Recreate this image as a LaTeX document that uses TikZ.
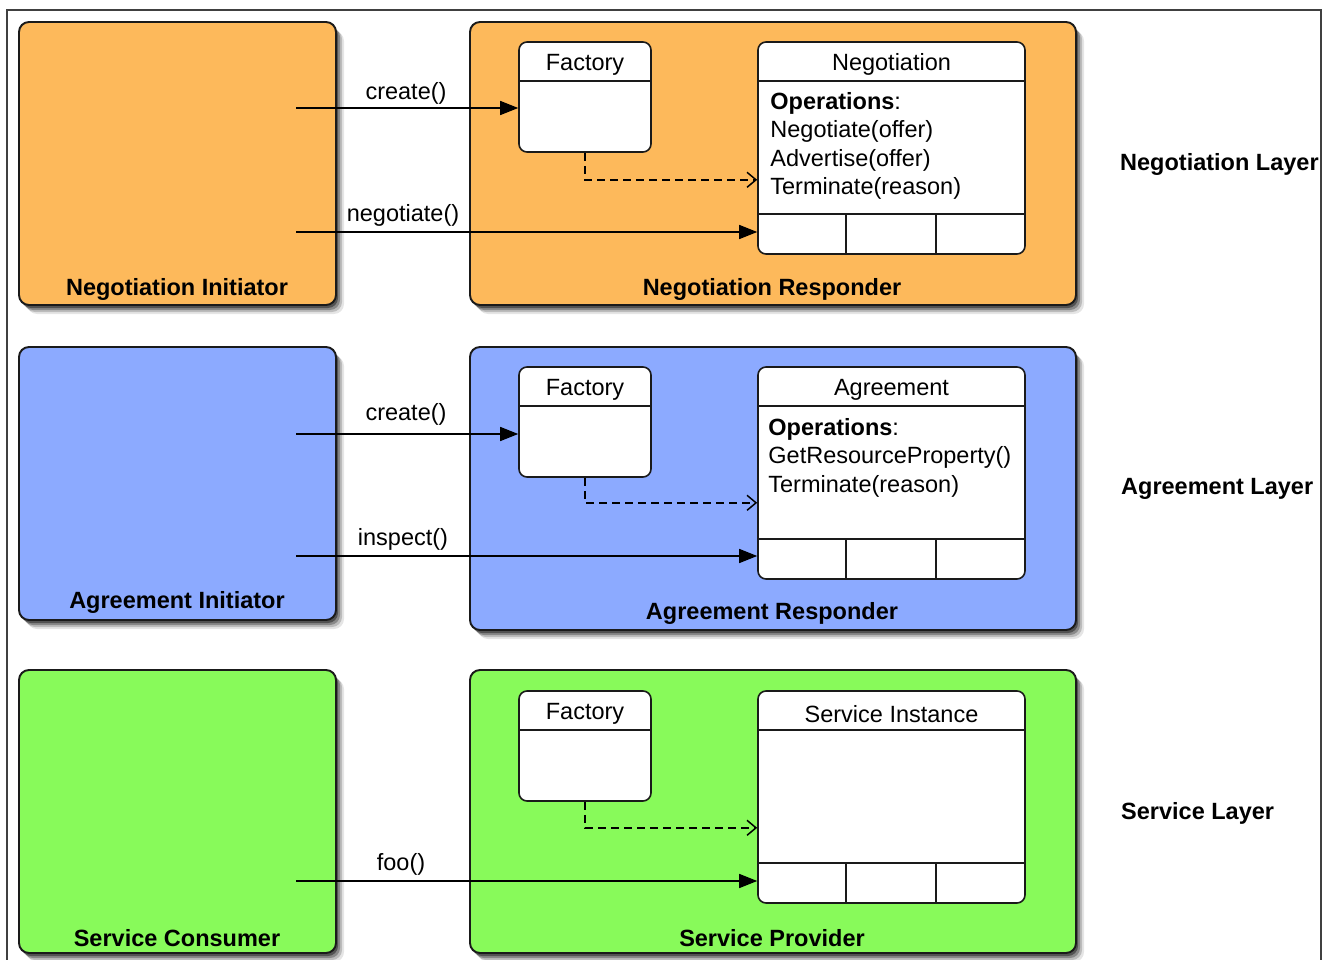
\documentclass[tikz,border=0pt]{standalone}
\usepackage{fontspec}
\setmainfont{Liberation Sans}
\usetikzlibrary{arrows.meta,shadows,calc}

\definecolor{negfill}{HTML}{FDB95B}
\definecolor{agrfill}{HTML}{8CAAFF}
\definecolor{svcfill}{HTML}{88FA5A}
\definecolor{edge}{HTML}{1A1A1A}

\tikzset{
  txt/.style={font=\fontsize{23.5}{28.3}\selectfont, inner sep=0pt, text=black},
  boldtxt/.style={txt, font=\fontsize{23.5}{28.3}\selectfont\bfseries},
  low/.style={yshift=-2.5pt},
  layerbox/.style={draw=edge, line width=1.9pt, rounded corners=10pt, inner sep=0pt,
    general shadow={shadow xshift=8pt, shadow yshift=-9pt, fill=black, opacity=.1},
    general shadow={shadow xshift=6pt, shadow yshift=-7pt, fill=black, opacity=.18},
    general shadow={shadow xshift=4pt, shadow yshift=-5pt, fill=black, opacity=.28},
    general shadow={shadow xshift=2pt, shadow yshift=-3pt, fill=black, opacity=.4}},
  facbox/.style={draw=edge, line width=1.6pt, rounded corners=8pt, fill=white, inner sep=0pt,
    minimum width=132pt, minimum height=110pt},
  clsbox/.style={draw=edge, line width=1.6pt, rounded corners=8pt, fill=white, inner sep=0pt,
    minimum width=267pt, minimum height=212pt},
  sep/.style={draw=edge, line width=1.5pt},
  call/.style={draw=black, line width=1.5pt, -{Triangle[length=18pt,width=14pt]}},
  dep/.style={draw=black, line width=1.6pt, dash pattern=on 8pt off 5pt,
    -{Straight Barb[length=9pt,width=15pt,line width=1.5pt]}},
}

\begin{document}
\begin{tikzpicture}[x=1pt, y=-1pt]
\useasboundingbox (0,0) rectangle (1323,960);

% page frame
\draw[line width=1.3pt, draw=black!75] (7,961) -- (7,10) -- (1321,10) -- (1321,961);

% ---------- negotiation layer ----------
\node[layerbox, fill=negfill, minimum width=317pt, minimum height=283pt] (ni) at (177.5,163.5) {};
\node[layerbox, fill=negfill, minimum width=606pt, minimum height=283pt] (nr) at (773,163.5) {};
\node[boldtxt, low] (nil) at (177,287) {Negotiation Initiator};
\node[boldtxt, low] (nrl) at (772,287) {Negotiation Responder};
\node[boldtxt, low, anchor=west] (nll) at (1120,162) {Negotiation Layer};

\node[facbox] (f1) at (585,97) {};
\draw[sep] ([yshift=-40pt]f1.north west) -- ([yshift=-40pt]f1.north east);
\node[txt, low] (f1t) at ([yshift=-21pt]f1.north) {Factory};

\node[clsbox] (c1) at (891.5,148) {};
\draw[sep] ([yshift=-40pt]c1.north west) -- ([yshift=-40pt]c1.north east);
\draw[sep] ([yshift=41pt]c1.south west) -- ([yshift=41pt]c1.south east);
\draw[sep] ([xshift=89pt,yshift=41pt]c1.south west) -- ([xshift=89pt]c1.south west);
\draw[sep] ([xshift=179pt,yshift=41pt]c1.south west) -- ([xshift=179pt]c1.south west);
\node[txt, low] (c1t) at ([yshift=-21pt]c1.north) {Negotiation};
\node[txt, anchor=north west, align=left] (c1o) at ([xshift=13pt,yshift=-51pt]c1.north west)
  {\textbf{Operations}:\\Negotiate(offer)\\Advertise(offer)\\Terminate(reason)};

\coordinate (s1) at (296,108);
\coordinate (s2) at (296,232);
\draw[call] (s1) -- (s1 -| f1.west);
\draw[call] (s2) -- (s2 -| c1.west);
\node[txt, low] (l1) at (406,91) {create()};
\node[txt, low] (l2) at (403,213) {negotiate()};
\draw[dep] (f1.south) |- ([yshift=-27pt]f1.south -| c1.west);

% ---------- agreement layer ----------
\node[layerbox, fill=agrfill, minimum width=317pt, minimum height=273pt] (ai) at (177.5,483.5) {};
\node[layerbox, fill=agrfill, minimum width=606pt, minimum height=283pt] (ar) at (773,488.5) {};
\node[boldtxt, low] (ail) at (177,600) {Agreement Initiator};
\node[boldtxt, low] (arl) at (772,611) {Agreement Responder};
\node[boldtxt, low, anchor=west] (all) at (1121,486) {Agreement Layer};

\node[facbox] (f2) at (585,422) {};
\draw[sep] ([yshift=-40pt]f2.north west) -- ([yshift=-40pt]f2.north east);
\node[txt, low] (f2t) at ([yshift=-21pt]f2.north) {Factory};

\node[clsbox] (c2) at (891.5,473) {};
\draw[sep] ([yshift=-40pt]c2.north west) -- ([yshift=-40pt]c2.north east);
\draw[sep] ([yshift=41pt]c2.south west) -- ([yshift=41pt]c2.south east);
\draw[sep] ([xshift=89pt,yshift=41pt]c2.south west) -- ([xshift=89pt]c2.south west);
\draw[sep] ([xshift=179pt,yshift=41pt]c2.south west) -- ([xshift=179pt]c2.south west);
\node[txt, low] (c2t) at ([yshift=-21pt]c2.north) {Agreement};
\node[txt, anchor=north west, align=left] (c2o) at ([xshift=11pt,yshift=-52pt]c2.north west)
  {\textbf{Operations}:\\GetResourceProperty()\\Terminate(reason)};

\coordinate (s3) at (296,434);
\coordinate (s4) at (296,556);
\draw[call] (s3) -- (s3 -| f2.west);
\draw[call] (s4) -- (s4 -| c2.west);
\node[txt, low] (l3) at (406,412) {create()};
\node[txt, low] (l4) at (403,537) {inspect()};
\draw[dep] (f2.south) |- ([yshift=-25pt]f2.south -| c2.west);

% ---------- service layer ----------
\node[layerbox, fill=svcfill, minimum width=317pt, minimum height=283pt] (sc) at (177.5,811.5) {};
\node[layerbox, fill=svcfill, minimum width=606pt, minimum height=283pt] (sp) at (773,811.5) {};
\node[boldtxt, low] (scl) at (177,936) {Service Consumer};
\node[boldtxt, low] (spl) at (772,936) {Service Provider};
\node[boldtxt, low, anchor=west] (sll) at (1121,811) {Service Layer};

\node[facbox] (f3) at (585,746) {};
\draw[sep] ([yshift=-40pt]f3.north west) -- ([yshift=-40pt]f3.north east);
\node[txt, low] (f3t) at ([yshift=-21pt]f3.north) {Factory};

\node[clsbox] (c3) at (891.5,797) {};
\draw[sep] ([yshift=-40pt]c3.north west) -- ([yshift=-40pt]c3.north east);
\draw[sep] ([yshift=41pt]c3.south west) -- ([yshift=41pt]c3.south east);
\draw[sep] ([xshift=89pt,yshift=41pt]c3.south west) -- ([xshift=89pt]c3.south west);
\draw[sep] ([xshift=179pt,yshift=41pt]c3.south west) -- ([xshift=179pt]c3.south west);
\node[txt, low] (c3t) at ([yshift=-21pt]c3.north) {Service Instance};

\coordinate (s5) at (296,881);
\draw[call] (s5) -- (s5 -| c3.west);
\node[txt, low] (l5) at (401,862) {foo()};
\draw[dep] (f3.south) |- ([yshift=-26pt]f3.south -| c3.west);
\end{tikzpicture}
\end{document}
